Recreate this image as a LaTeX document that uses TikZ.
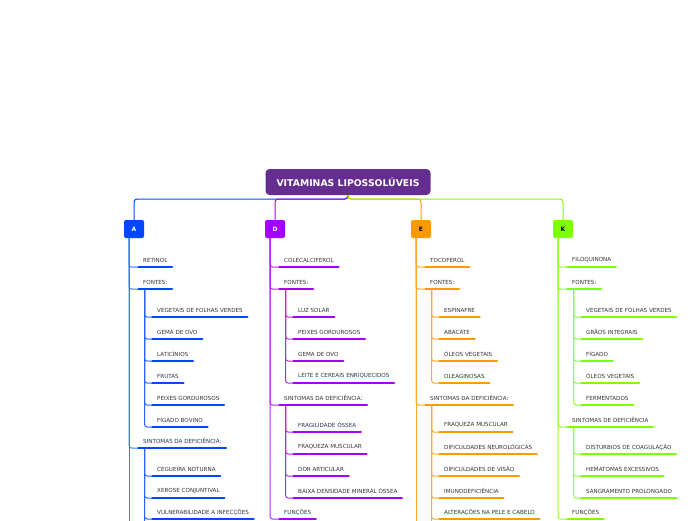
\documentclass[tikz,border=0pt]{standalone}
\usepackage{fontspec}
\setmainfont{DejaVu Sans}
\definecolor{rootc}{RGB}{102,45,145}
\definecolor{colA}{RGB}{0,72,255}
\definecolor{colD}{RGB}{162,0,255}
\definecolor{colE}{RGB}{255,153,0}
\definecolor{colK}{RGB}{128,255,0}
\definecolor{textc}{RGB}{51,51,51}
\begin{document}
\begin{tikzpicture}[x=1pt,y=-1pt,
  root/.style={fill=rootc,rounded corners=4pt,minimum width=165pt,minimum height=26pt,
    text=white,font=\fontsize{9.3}{10}\selectfont\bfseries},
  vbox/.style={rounded corners=2pt,minimum width=20pt,minimum height=18pt,inner sep=0pt,
    font=\fontsize{6}{7}\selectfont\bfseries},
  item/.style={anchor=west,inner xsep=4.5pt,inner ysep=0pt,minimum height=14pt,
    text=textc,font=\fontsize{5.6}{6}\selectfont},
  uline/.style={line width=2.4pt,line cap=round},
  link/.style={line width=1pt,rounded corners=3pt}]
\useasboundingbox (0,0) rectangle (696,520);
\clip (0,0) rectangle (696,520);

% root
\node[root] (root) at (348,182) {VITAMINAS LIPOSSOLÚVEIS};
\coordinate (jn) at (348,199);

% vitamin boxes
\node[vbox,fill=colA,text=white] (a) at (134,229) {A};
\node[vbox,fill=colD,text=white] (d) at (275,229) {D};
\node[vbox,fill=colE,text=black] (e) at (421,229) {E};
\node[vbox,fill=colK,text=black] (k) at (563,229) {K};

\draw[link,colA] (root.south) -- (jn) -| (a.north);
\draw[link,colD] (root.south) -- (jn) -| (d.north);
\draw[link,colE] (root.south) -- (jn) -| (e.north);
\draw[link,colK] (root.south) -- (jn) -| (k.north);

% ---- A ----
\coordinate (a-sp) at (129,238);
\coordinate (a-end) at (129,524);
\node[item] (a1) at (138.5,260) {RETINOL};
\node[item] (a2) at (138.5,282) {FONTES:};
\node[item] (a2-1) at (152.5,310) {VEGETAIS DE FOLHAS VERDES};
\node[item] (a2-2) at (152.5,332) {GEMA DE OVO};
\node[item] (a2-3) at (152.5,354) {LATICÍNIOS};
\node[item] (a2-4) at (152.5,376) {FRUTAS};
\node[item] (a2-5) at (152.5,398) {PEIXES GORDUROSOS};
\node[item] (a2-6) at (152.5,420) {FÍGADO BOVINO};
\node[item] (a3) at (138.5,441) {SINTOMAS DA DEFICIÊNCIA:};
\node[item] (a3-1) at (152.5,469) {CEGUEIRA NOTURNA};
\node[item] (a3-2) at (152.5,491) {XEROSE CONJUNTIVAL};
\node[item] (a3-3) at (152.5,512) {VULNERABILIDADE A INFECÇÕES};
\coordinate (a3-end) at (144.5,524);

\draw[link,colA!75] (a-sp) -- (a-end);
\foreach \n in {a1,a2,a3}
  \draw[link,colA!75] (a-sp) |- (\n.south west);
\foreach \n in {a2-1,a2-2,a2-3,a2-4,a2-5,a2-6}
  \draw[link,colA!85] ([xshift=6pt]a2.south west) |- (\n.south west);
\draw[link,colA!85] ([xshift=6pt]a3.south west) -- (a3-end);
\foreach \n in {a3-1,a3-2,a3-3}
  \draw[link,colA!85] ([xshift=6pt]a3.south west) |- (\n.south west);
\foreach \n in {a1,a2,a2-1,a2-2,a2-3,a2-4,a2-5,a2-6,a3,a3-1,a3-2,a3-3}
  \draw[uline,colA] (\n.south west) -- (\n.south east);

% ---- D ----
\coordinate (d-sp) at (270,238);
\node[item] (d1) at (279.5,260) {COLECALCIFEROL};
\node[item] (d2) at (279.5,282) {FONTES:};
\node[item] (d2-1) at (293.5,310) {LUZ SOLAR};
\node[item] (d2-2) at (293.5,332) {PEIXES GORDUROSOS};
\node[item] (d2-3) at (293.5,354) {GEMA DE OVO};
\node[item] (d2-4) at (293.5,376) {LEITE E CEREAIS ENRIQUECIDOS};
\node[item] (d3) at (279.5,398) {SINTOMAS DA DEFICIÊNCIA:};
\node[item] (d3-1) at (293.5,425) {FRAGILIDADE ÓSSEA};
\node[item] (d3-2) at (293.5,447) {FRAQUEZA MUSCULAR};
\node[item] (d3-3) at (293.5,469) {DOR ARTICULAR};
\node[item] (d3-4) at (293.5,491) {BAIXA DENSIDADE MINERAL ÓSSEA};
\node[item] (d4) at (279.5,512) {FUNÇÕES};

\foreach \n in {d1,d2,d3,d4}
  \draw[link,colD!85] (d-sp) |- (\n.south west);
\foreach \n in {d2-1,d2-2,d2-3,d2-4}
  \draw[link,colD!85] ([xshift=6pt]d2.south west) |- (\n.south west);
\foreach \n in {d3-1,d3-2,d3-3,d3-4}
  \draw[link,colD!85] ([xshift=6pt]d3.south west) |- (\n.south west);
\foreach \n in {d1,d2,d2-1,d2-2,d2-3,d2-4,d3,d3-1,d3-2,d3-3,d3-4,d4}
  \draw[uline,colD] (\n.south west) -- (\n.south east);

% ---- E ----
\coordinate (e-sp) at (416,238);
\coordinate (e-end) at (416,524);
\node[item] (e1) at (425.5,260) {TOCOFEROL};
\node[item] (e2) at (425.5,282) {FONTES:};
\node[item] (e2-1) at (439.5,310) {ESPINAFRE};
\node[item] (e2-2) at (439.5,332) {ABACATE};
\node[item] (e2-3) at (439.5,354) {ÓLEOS VEGETAIS};
\node[item] (e2-4) at (439.5,376) {OLEAGINOSAS};
\node[item] (e3) at (425.5,398) {SINTOMAS DA DEFICIÊNCIA:};
\node[item] (e3-1) at (439.5,425) {FRAQUEZA MUSCULAR};
\node[item] (e3-2) at (439.5,447) {DIFICULDADES NEUROLÓGICAS};
\node[item] (e3-3) at (439.5,469) {DIFICULDADES DE VISÃO};
\node[item] (e3-4) at (439.5,491) {IMUNODEFICIÊNCIA};
\node[item] (e3-5) at (439.5,512) {ALTERAÇÕES NA PELE E CABELO};
\coordinate (e3-end) at (431.5,524);

\draw[link,colE!85] (e-sp) -- (e-end);
\foreach \n in {e1,e2,e3}
  \draw[link,colE!85] (e-sp) |- (\n.south west);
\foreach \n in {e2-1,e2-2,e2-3,e2-4}
  \draw[link,colE!85] ([xshift=6pt]e2.south west) |- (\n.south west);
\draw[link,colE!85] ([xshift=6pt]e3.south west) -- (e3-end);
\foreach \n in {e3-1,e3-2,e3-3,e3-4,e3-5}
  \draw[link,colE!85] ([xshift=6pt]e3.south west) |- (\n.south west);
\foreach \n in {e1,e2,e2-1,e2-2,e2-3,e2-4,e3,e3-1,e3-2,e3-3,e3-4,e3-5}
  \draw[uline,colE] (\n.south west) -- (\n.south east);

% ---- K ----
\coordinate (k-sp) at (558,238);
\node[item] (k1) at (567.5,260) {FILOQUINONA};
\node[item] (k2) at (567.5,282) {FONTES:};
\node[item] (k2-1) at (581.5,310) {VEGETAIS DE FOLHAS VERDES};
\node[item] (k2-2) at (581.5,332) {GRÃOS INTEGRAIS};
\node[item] (k2-3) at (581.5,354) {FÍGADO};
\node[item] (k2-4) at (581.5,376) {ÓLEOS VEGETAIS};
\node[item] (k2-5) at (581.5,398) {FERMENTADOS};
\node[item] (k3) at (567.5,420) {SINTOMAS DE DEFICIÊNCIA};
\node[item] (k3-1) at (581.5,447) {DISTÚRBIOS DE COAGULAÇÃO};
\node[item] (k3-2) at (581.5,469) {HEMATOMAS EXCESSIVOS};
\node[item] (k3-3) at (581.5,491) {SANGRAMENTO PROLONGADO};
\node[item] (k4) at (567.5,512) {FUNÇÕES};

\foreach \n in {k1,k2,k3,k4}
  \draw[link,colK!85] (k-sp) |- (\n.south west);
\foreach \n in {k2-1,k2-2,k2-3,k2-4,k2-5}
  \draw[link,colK!85] ([xshift=6pt]k2.south west) |- (\n.south west);
\foreach \n in {k3-1,k3-2,k3-3}
  \draw[link,colK!85] ([xshift=6pt]k3.south west) |- (\n.south west);
\foreach \n in {k1,k2,k2-1,k2-2,k2-3,k2-4,k2-5,k3,k3-1,k3-2,k3-3,k4}
  \draw[uline,colK] (\n.south west) -- (\n.south east);
\end{tikzpicture}
\end{document}
